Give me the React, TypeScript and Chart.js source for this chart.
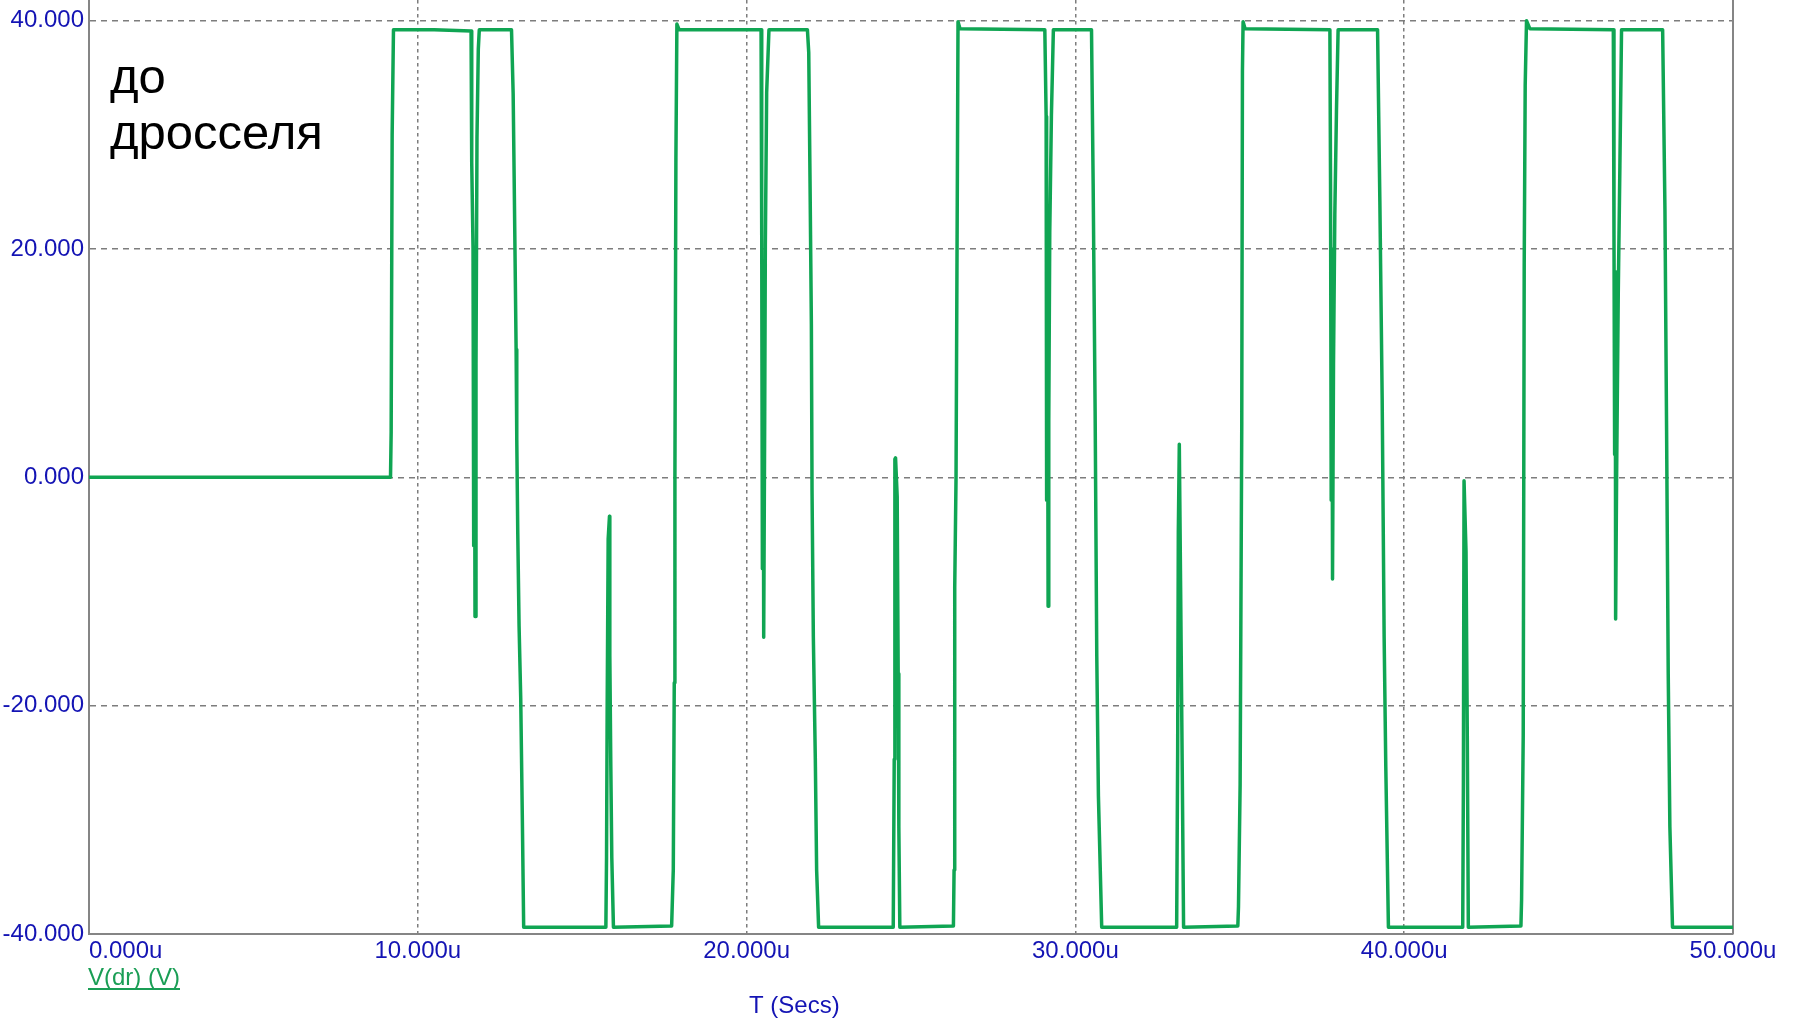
import React, { useEffect, useRef } from 'react';
import { Chart, registerables } from 'chart.js';

Chart.register(...registerables);

// time in microseconds
const timeUs = [
  0, 9.17, 9.19, 9.22, 9.26, 10.5, 11.62, 11.64, 11.68, 11.7, 11.72, 11.74, 11.77, 11.8, 11.84, 11.87,
  12.85, 12.9, 12.93, 12.96, 12.99, 13.01, 13.04, 13.08, 13.13, 13.18, 13.22,
  15.72, 15.74, 15.76, 15.79, 15.83, 15.84, 15.87, 15.9, 15.95,
  17.72, 17.77, 17.8, 17.82, 17.85, 17.88, 17.95,
  20.44, 20.46, 20.48, 20.5, 20.52, 20.55, 20.57, 20.61, 20.68,
  21.85, 21.89, 21.93, 21.97, 21.99, 22.03, 22.09, 22.13, 22.19,
  24.46, 24.49, 24.51, 24.53, 24.58, 24.61, 24.63, 24.66,
  26.29, 26.31, 26.33, 26.37, 26.41, 26.43, 26.49,
  29.07, 29.11, 29.12, 29.13, 29.15, 29.17, 29.19, 29.22, 29.27, 29.33,
  30.49, 30.54, 30.6, 30.65, 30.7, 30.8,
  33.08, 33.11, 33.13, 33.16, 33.2, 33.25, 33.29,
  34.94, 34.96, 35.01, 35.06, 35.08, 35.1, 35.16,
  37.74, 37.76, 37.78, 37.8, 37.82, 37.85, 37.89, 37.94, 37.99,
  39.19, 39.26, 39.33, 39.39, 39.44, 39.52,
  41.78, 41.8, 41.82, 41.83, 41.88, 41.92, 41.95,
  43.55, 43.57, 43.62, 43.65, 43.68, 43.72, 43.82,
  46.36, 46.38, 46.4, 46.42, 46.43, 46.46, 46.51, 46.56, 46.61,
  47.86, 47.93, 47.98, 48.03, 48.08, 48.16,
  50,
];

// V(dr) in volts
const voltage = [
  0, 0, 4, 30, 39.2, 39.2, 39.1, 27.6, 20, -6, 15, -12.2, 10, 29.7, 37.5, 39.2,
  39.2, 33.6, 26.4, 18.8, 11.2, 3.4, -4.8, -13, -19.3, -30, -39.4,
  -39.4, -33.3, -19.9, -5.4, -3.4, -15.6, -25.3, -33.3, -39.4,
  -39.3, -34.4, -18, 0, 28, 39.7, 39.2,
  39.2, 21, -8, 18, -14, 5, 20.3, 33.7, 39.2,
  39.2, 37.2, 25.7, 13.4, -1.1, -14, -24.7, -34.4, -39.4,
  -39.4, -24.7, 1.6, 1.7, -1.7, -17.2, -30.6, -39.4,
  -39.3, -34.4, -9.7, 0, 26.2, 39.9, 39.3,
  39.2, 31.6, 19.8, -2, 18, -11.3, 5, 21.4, 31.6, 39.2,
  39.2, 25.7, 5.8, -15.6, -27.9, -39.4,
  -39.4, -24.2, -4.9, 2.9, -9.7, -25.8, -39.4,
  -39.3, -37.6, -26.9, 4.8, 35.6, 39.9, 39.3,
  39.2, 25.7, -2, 20, -8.9, 10, 23, 32.1, 39.2,
  39.2, 24.1, 6.9, -14, -25.3, -39.4,
  -39.4, -26.9, -0.3, -0.3, -6.5, -23.1, -39.4,
  -39.3, -37, -22.6, 18.7, 34.3, 40, 39.3,
  39.2, 21.4, 2, 18, -12.4, 0, 16, 27.3, 39.2,
  39.2, 23.5, 4.2, -17.2, -30.6, -39.4,
  -39.4,
];

const xTicks = [0, 10, 20, 30, 40, 50];
const yTicks = [-40, -20, 0, 20, 40];
const seriesLabel = 'V(dr) (V)';
const xTitle = 'T (Secs)';
const noteLines = ['до', 'дросселя'];

const FONT = '"Liberation Sans", Arial, Helvetica, sans-serif';
const LINE_COLOR = '#10a553';
const LEGEND_COLOR = '#1a9e55';
const TICK_COLOR = '#1414b4';
const AXIS_COLOR = '#858585';
const GRID_COLOR = '#7d7d7d';

const textPlugin = {
  id: 'spiceText',
  beforeDatasetsDraw(chart: any) {
    const { ctx, chartArea } = chart;
    ctx.save();
    ctx.strokeStyle = AXIS_COLOR;
    ctx.lineWidth = 2;
    ctx.beginPath();
    ctx.moveTo(chartArea.right, chartArea.top);
    ctx.lineTo(chartArea.right, chartArea.bottom);
    ctx.stroke();
    ctx.restore();
  },
  afterDraw(chart: any) {
    const { ctx, chartArea } = chart;
    ctx.save();
    ctx.textAlign = 'left';
    ctx.textBaseline = 'alphabetic';
    // note
    ctx.fillStyle = '#000000';
    ctx.font = `49px ${FONT}`;
    ctx.fillText(noteLines[0], chartArea.left + 21, 93);
    ctx.fillText(noteLines[1], chartArea.left + 21, 149);
    // legend label
    ctx.font = `24px ${FONT}`;
    ctx.fillStyle = LEGEND_COLOR;
    const lx = chartArea.left - 1;
    const ly = chartArea.bottom + 51;
    ctx.fillText(seriesLabel, lx, ly);
    const w = ctx.measureText(seriesLabel).width;
    ctx.fillRect(lx, ly + 3, w, 2);
    // x title
    ctx.fillStyle = TICK_COLOR;
    ctx.fillText(xTitle, 749, chartArea.bottom + 79);
    ctx.restore();
  },
};

export default function App() {
  const canvasRef = useRef<HTMLCanvasElement | null>(null);

  useEffect(() => {
    document.body.style.margin = '0';
    const canvas = canvasRef.current;
    if (!canvas) return;
    Chart.defaults.font.family = FONT;

    const points = timeUs.map((t, i) => ({ x: t, y: voltage[i] }));

    const chart = new Chart(canvas, {
      type: 'scatter',
      data: {
        datasets: [
          {
            label: seriesLabel,
            data: points,
            showLine: true,
            borderColor: LINE_COLOR,
            backgroundColor: LINE_COLOR,
            borderWidth: 3.5,
            pointRadius: 0,
            tension: 0,
            borderJoinStyle: 'round',
            borderCapStyle: 'round',
          } as any,
        ],
      },
      options: {
        animation: false,
        responsive: false,
        devicePixelRatio: 1,
        layout: { padding: { left: 0, right: 63, top: 0, bottom: 0 } },
        plugins: {
          legend: { display: false },
          tooltip: { enabled: false },
        },
        scales: {
          x: {
            type: 'linear',
            min: 0,
            max: 50,
            afterBuildTicks: (scale: any) => {
              scale.ticks = xTicks.map((value) => ({ value }));
            },
            afterFit: (scale: any) => {
              scale.height = 96;
              scale.paddingLeft = 0;
              scale.paddingRight = 0;
            },
            ticks: {
              autoSkip: false,
              maxRotation: 0,
              padding: 3,
              color: TICK_COLOR,
              font: { size: 24, family: FONT },
              callback: (v: any) => {
                const s = Number(v).toFixed(3) + 'u';
                return Number(v) === xTicks[0] ? ' '.repeat(11) + s : s;
              },
            },
            grid: {
              drawTicks: false,
              lineWidth: 1.5,
              color: (c: any) =>
                c.tick && (c.tick.value === xTicks[0] || c.tick.value === xTicks[xTicks.length - 1])
                  ? 'rgba(0,0,0,0)'
                  : GRID_COLOR,
            },
            border: { display: true, color: AXIS_COLOR, width: 2, dash: [3.5, 3.5] },
          },
          y: {
            type: 'linear',
            min: -40,
            max: 41.81,
            afterBuildTicks: (scale: any) => {
              scale.ticks = yTicks.map((value) => ({ value }));
            },
            afterFit: (scale: any) => {
              scale.width = 89;
              scale.paddingTop = 0;
              scale.paddingBottom = 0;
            },
            ticks: {
              padding: 5,
              color: TICK_COLOR,
              font: { size: 24, family: FONT },
              callback: (v: any) => Number(v).toFixed(3),
            },
            grid: {
              drawTicks: false,
              lineWidth: 1.5,
              color: (c: any) =>
                c.tick && c.tick.value === yTicks[0] ? 'rgba(0,0,0,0)' : GRID_COLOR,
            },
            border: { display: true, color: AXIS_COLOR, width: 2, dash: [6, 5] },
          },
        },
      } as any,
      plugins: [textPlugin],
    });

    return () => chart.destroy();
  }, []);

  return (
    <div style={{ width: 1796, height: 1030, position: 'relative' }}>
      <canvas ref={canvasRef} width={1796} height={1030} style={{ display: 'block' }} />
    </div>
  );
}
